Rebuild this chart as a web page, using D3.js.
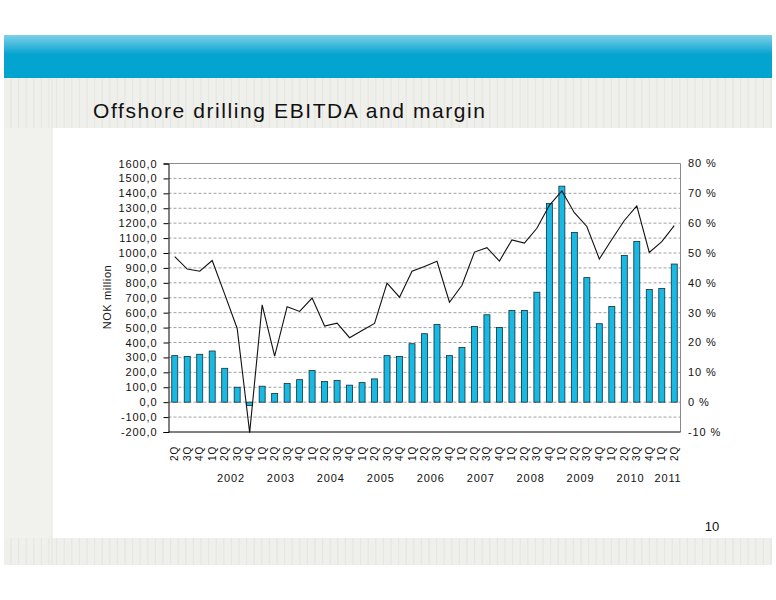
<!DOCTYPE html>
<html>
<head>
<meta charset="utf-8">
<script src="https://cdn.jsdelivr.net/npm/d3@7"></script>
<style>
  body { margin: 0; background: #fff; }
  svg { display: block; font-family: "Liberation Sans", Arial, sans-serif; }
</style>
</head>
<body>
<div id="chart"></div>
<script>
// quarter labels, 2Q 2001 .. 2Q 2011
const quarters = ["2Q", "3Q", "4Q",
  "1Q", "2Q", "3Q", "4Q", "1Q", "2Q", "3Q", "4Q", "1Q", "2Q", "3Q", "4Q",
  "1Q", "2Q", "3Q", "4Q", "1Q", "2Q", "3Q", "4Q", "1Q", "2Q", "3Q", "4Q",
  "1Q", "2Q", "3Q", "4Q", "1Q", "2Q", "3Q", "4Q", "1Q", "2Q", "3Q", "4Q",
  "1Q", "2Q"];

// year group labels: first and last category index of each year
const years = ["2002", "2003", "2004", "2005", "2006", "2007", "2008", "2009", "2010", "2011"];
const yearStart = [3, 7, 11, 15, 19, 23, 27, 31, 35, 39];
const yearEnd = [6, 10, 14, 18, 22, 26, 30, 34, 38, 40];

// EBITDA, NOK million
const ebitda = [312, 307, 321, 343, 227, 100, -22, 107, 58, 125, 151, 212, 138, 145,
  114, 131, 156, 312, 307, 392, 459, 521, 312, 367, 508, 586, 501,
  615, 615, 737, 1332, 1448, 1138, 835, 526, 641, 984, 1078, 755, 762, 926];

// EBITDA margin, %
const margin = [48.8, 44.6, 43.9, 47.5, 36.2, 24.7, -10.2, 32.6, 15.4, 32.0, 30.4, 34.9, 25.5, 26.5,
  21.6, 24.0, 26.4, 39.9, 35.2, 43.9, 45.5, 47.2, 33.5, 39.2, 50.3, 51.8, 47.3,
  54.4, 53.3, 58.3, 66.0, 70.8, 63.5, 58.9, 48.0, 54.5, 60.9, 65.8, 50.2, 53.8, 59.2];

const leftTicks = d3.range(-200, 1601, 100);
const rightTicks = d3.range(-10, 81, 10);

const width = 776;
const height = 600;

const svg = d3.select("#chart")
  .append("svg")
  .attr("width", width)
  .attr("height", height);

// ---- slide background ----
const defs = svg.append("defs");
const grad = defs.append("linearGradient")
  .attr("id", "band")
  .attr("x1", 0).attr("y1", 0).attr("x2", 0).attr("y2", 1);
grad.append("stop").attr("offset", "0%").attr("stop-color", "#7fd0e8");
grad.append("stop").attr("offset", "45%").attr("stop-color", "#05a4d0");
grad.append("stop").attr("offset", "100%").attr("stop-color", "#00a3cf");

svg.append("rect")
  .attr("x", 4).attr("y", 35).attr("width", 768).attr("height", 43)
  .attr("fill", "url(#band)");

function stripedBand(y, h) {
  svg.append("rect")
    .attr("x", 4).attr("y", y).attr("width", 768).attr("height", h)
    .attr("fill", "#efefeb");
  svg.append("g")
    .selectAll("line")
    .data(d3.range(11, 772, 7.6))
    .join("line")
    .attr("x1", (d) => d).attr("x2", (d) => d)
    .attr("y1", y).attr("y2", y + h)
    .attr("stroke", "#e2e2dc")
    .attr("stroke-width", 0.8);
}
stripedBand(78, 50);
stripedBand(538, 27);

svg.append("rect")
  .attr("x", 4).attr("y", 128).attr("width", 48).attr("height", 410)
  .attr("fill", "#f1f1ed");
svg.append("line")
  .attr("x1", 52).attr("x2", 52).attr("y1", 78).attr("y2", 565)
  .attr("stroke", "#e6e6e0");

svg.append("text")
  .attr("x", 93).attr("y", 118)
  .attr("font-size", 21)
  .attr("textLength", 392)
  .attr("lengthAdjust", "spacing")
  .attr("fill", "#111")
  .text("Offshore drilling EBITDA and margin");

svg.append("text")
  .attr("x", 712).attr("y", 531)
  .attr("text-anchor", "middle")
  .attr("font-size", 13)
  .attr("fill", "#111")
  .text("10");

// ---- chart ----
const area = { left: 168.5, right: 680.5, top: 163.5, bottom: 432 };

const x = d3.scaleBand()
  .domain(d3.range(quarters.length))
  .range([area.left, area.right]);

const y = d3.scaleLinear()
  .domain([-200, 1600])
  .range([area.bottom, area.top]);

const y2 = d3.scaleLinear()
  .domain([-10, 80])
  .range([area.bottom, area.top]);

// gridlines
svg.append("g")
  .selectAll("line")
  .data(leftTicks.filter((d) => d > -200 && d < 1600))
  .join("line")
  .attr("x1", area.left).attr("x2", area.right)
  .attr("y1", (d) => y(d)).attr("y2", (d) => y(d))
  .attr("stroke", "#8a8a8a")
  .attr("stroke-width", 0.8)
  .attr("stroke-dasharray", "3,2");

// plot border (top/right)
svg.append("path")
  .attr("d", `M${area.left},${area.top}H${area.right}V${area.bottom}`)
  .attr("fill", "none")
  .attr("stroke", "#8a8a8a")
  .attr("stroke-width", 1);

// bars
const barW = 6;
svg.append("g")
  .selectAll("rect")
  .data(ebitda)
  .join("rect")
  .attr("x", (d, i) => x(i) + x.bandwidth() / 2 - barW / 2)
  .attr("y", (d) => y(Math.max(0, d)))
  .attr("width", barW)
  .attr("height", (d) => Math.abs(y(d) - y(0)))
  .attr("fill", "#18b9e2")
  .attr("stroke", "#10303a")
  .attr("stroke-width", 0.8);

// margin line
const line = d3.line()
  .x((d, i) => x(i) + x.bandwidth() / 2)
  .y((d) => y2(d));

svg.append("path")
  .datum(margin)
  .attr("d", line)
  .attr("fill", "none")
  .attr("stroke", "#111")
  .attr("stroke-width", 1.1);

// left axis
const yAxis = svg.append("g")
  .attr("transform", `translate(${area.left},0)`)
  .call(d3.axisLeft(y)
    .tickValues(leftTicks)
    .tickSize(5)
    .tickPadding(6)
    .tickFormat((d) => d3.format(".1f")(d).replace(".", ",").replace("−", "-")));
yAxis.select(".domain").attr("stroke", "#000");
yAxis.selectAll(".tick line").attr("stroke", "#000");
yAxis.selectAll("text")
  .attr("font-size", 11)
  .attr("letter-spacing", 0.9)
  .attr("fill", "#111");

// right axis labels
svg.append("g")
  .selectAll("text")
  .data(rightTicks)
  .join("text")
  .attr("x", 688)
  .attr("y", (d) => y2(d))
  .attr("dy", "0.35em")
  .attr("font-size", 11)
  .attr("letter-spacing", 0.9)
  .attr("fill", "#111")
  .text((d) => d + " %");

// bottom axis line
svg.append("line")
  .attr("x1", area.left).attr("x2", area.right)
  .attr("y1", area.bottom).attr("y2", area.bottom)
  .attr("stroke", "#000");

// quarter labels
svg.append("g")
  .selectAll("text")
  .data(quarters)
  .join("text")
  .attr("transform", (d, i) => `translate(${x(i) + x.bandwidth() / 2 + 3.5},446) rotate(-90)`)
  .attr("text-anchor", "end")
  .attr("font-size", 10)
  .attr("letter-spacing", 0.8)
  .attr("fill", "#111")
  .text((d) => d);

// year labels
svg.append("g")
  .selectAll("text")
  .data(years)
  .join("text")
  .attr("x", (d, i) => (x(yearStart[i]) + x(yearEnd[i]) + x.bandwidth()) / 2)
  .attr("y", 482)
  .attr("text-anchor", "middle")
  .attr("font-size", 11)
  .attr("letter-spacing", 0.9)
  .attr("fill", "#111")
  .text((d) => d);

// y axis title
svg.append("text")
  .attr("transform", "translate(111,297) rotate(-90)")
  .attr("text-anchor", "middle")
  .attr("font-size", 11)
  .attr("letter-spacing", 0.6)
  .attr("fill", "#111")
  .text("NOK million");
</script>
</body>
</html>
